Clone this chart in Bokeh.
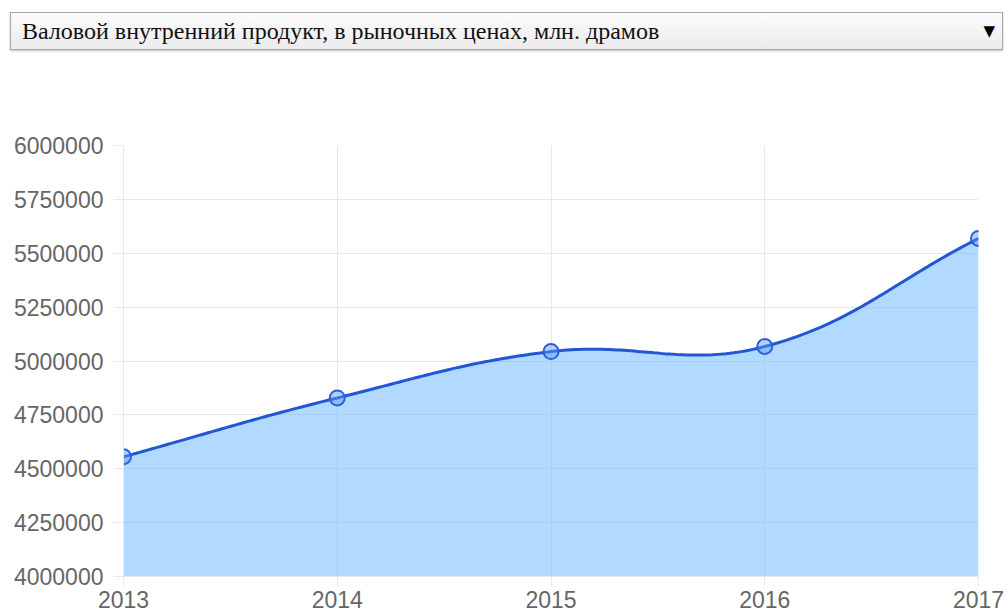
import numpy as np
from bokeh.plotting import figure
from bokeh.models import Div, Range1d, FixedTicker, BasicTickFormatter
from bokeh.layouts import column
from bokeh.embed import file_html
from bokeh.resources import INLINE

# ---- data ----
title_text = "Валовой внутренний продукт, в рыночных ценах, млн. драмов"
years = [2013, 2014, 2015, 2016, 2017]
gdp = [4555638, 4828626, 5043633, 5067294, 5568870]
y_ticks = [4000000, 4250000, 4500000, 4750000, 5000000, 5250000, 5500000, 5750000, 6000000]
y_min, y_max = 4000000, 6000000

# ---- layout constants ----
W = 1008
DIV_H = 55
FIG_H = 560
B_LEFT, B_RIGHT, B_TOP, B_BOTTOM = 123, 30, 90, 39
frame_w = W - B_LEFT - B_RIGHT
frame_h = FIG_H - B_TOP - B_BOTTOM

# ---- Chart.js style bezier (tension 0.4) computed in pixel space ----
def spline(xs, ys, t=0.4, n=60):
    sx = frame_w / (xs[-1] - xs[0])
    sy = frame_h / (y_max - y_min)
    px = np.array(xs, float) * sx
    py = np.array(ys, float) * sy
    N = len(px)
    cin, cout = [], []
    for i in range(N):
        a = max(i - 1, 0)
        c = min(i + 1, N - 1)
        d01 = np.hypot(px[i] - px[a], py[i] - py[a])
        d12 = np.hypot(px[c] - px[i], py[c] - py[i])
        tot = d01 + d12
        fa = t * d01 / tot
        fb = t * d12 / tot
        dx = px[c] - px[a]
        dy = py[c] - py[a]
        cin.append((px[i] - fa * dx, py[i] - fa * dy))
        cout.append((px[i] + fb * dx, py[i] + fb * dy))
    ox, oy = [], []
    s = np.linspace(0, 1, n)
    for i in range(N - 1):
        p0 = np.array([px[i], py[i]])
        p1 = np.array(cout[i])
        p2 = np.array(cin[i + 1])
        p3 = np.array([px[i + 1], py[i + 1]])
        pts = ((1 - s) ** 3)[:, None] * p0 + (3 * (1 - s) ** 2 * s)[:, None] * p1 \
            + (3 * (1 - s) * s ** 2)[:, None] * p2 + (s ** 3)[:, None] * p3
        if i > 0:
            pts = pts[1:]
        ox.extend(pts[:, 0] / sx)
        oy.extend(pts[:, 1] / sy)
    return np.array(ox), np.array(oy)

cx, cy = spline(years, gdp)

# ---- header (select-like box) ----
header = Div(
    text=(
        '<div style="position:relative; margin:12px 0 0 10px; width:993px; height:38px; '
        'box-sizing:border-box; border:1px solid #a6a6a6; '
        'box-shadow:0 1px 2px rgba(0,0,0,0.25); '
        'background:linear-gradient(#fbfbfb,#ececec); '
        "font-family:'Liberation Serif','Times New Roman',serif; font-size:24px; "
        'line-height:36px; color:#111;">'
        '<span style="position:absolute; left:11px; top:0;">' + title_text + '</span>'
        '<span style="position:absolute; right:7px; top:0; font-family:\'DejaVu Sans\'; '
        'font-size:15px; color:#000;">&#9660;</span>'
        '</div>'
    ),
    width=W, height=DIV_H, margin=(0, 0, 0, 0),
)

# ---- chart ----
p = figure(
    width=W, height=FIG_H, output_backend="svg", toolbar_location=None,
    x_range=Range1d(years[0], years[-1]), y_range=Range1d(y_min, y_max),
    min_border_left=B_LEFT, min_border_right=B_RIGHT, min_border_top=B_TOP,
    min_border_bottom=B_BOTTOM, margin=(0, 0, 0, 0),
)
p.outline_line_color = None
p.background_fill_color = "white"
p.border_fill_color = "white"

grid_col = "#e8e8e8"
p.xgrid.grid_line_color = grid_col
p.ygrid.grid_line_color = grid_col
p.xaxis.ticker = FixedTicker(ticks=years)
p.yaxis.ticker = FixedTicker(ticks=y_ticks)
p.yaxis.formatter = BasicTickFormatter(use_scientific=False)

for ax in (p.xaxis, p.yaxis):
    ax.axis_line_color = grid_col
    ax.major_tick_line_color = grid_col
    ax.minor_tick_line_color = None
    ax.major_tick_in = 0
    ax.major_label_text_color = "#666666"
    ax.major_label_text_font = "Liberation Sans"
    ax.major_label_text_font_size = "23px"

p.yaxis.major_tick_out = 10
p.yaxis.major_label_standoff = 10
p.xaxis.major_tick_out = 10
p.xaxis.major_label_standoff = 4

p.varea(x=cx, y1=y_min, y2=cy, fill_color="#66b3ff", fill_alpha=0.5)
p.line(cx, cy, line_color="#2356d6", line_width=3)
p.scatter(years, gdp, size=15, marker="circle", line_color="#2d5fdc", line_width=2,
          fill_color="#5b9bef", fill_alpha=0.45)

layout = column(header, p, spacing=0, margin=(0, 0, 0, 0))
open("out.html", "w").write(file_html(layout, INLINE))
